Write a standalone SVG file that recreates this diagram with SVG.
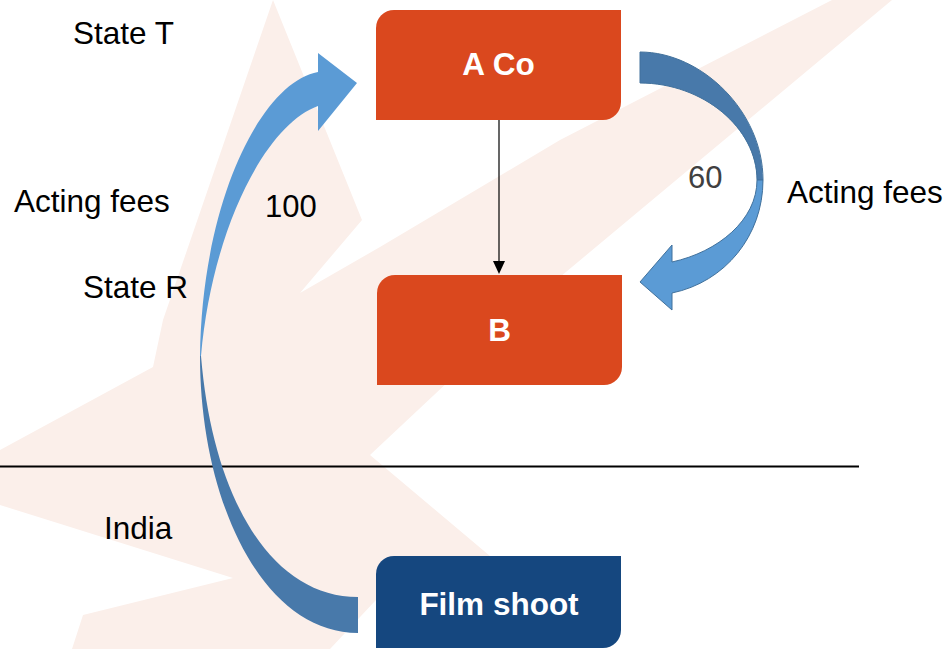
<svg xmlns="http://www.w3.org/2000/svg" width="947" height="649" viewBox="0 0 947 649">
  <defs>
    <style>
      .lbl { font-family: "Liberation Sans", Arial, sans-serif; font-size: 31.5px; fill: #000; }
      .num { font-family: "Liberation Sans", Arial, sans-serif; font-size: 31px; }
      .box-text { font-family: "Liberation Sans", Arial, sans-serif; font-size: 31.5px; font-weight: bold; fill: #fff; text-anchor: middle; }
      .orange { fill: #DA481E; }
      .navy { fill: #15477F; }
      .light { fill: #5B9BD5; }
      .dark { fill: #4879AA; }
      .outl { stroke: #41719C; stroke-width: 1; }
    </style>
  </defs>
  <rect width="947" height="649" fill="#fff"/>
  <g id="watermark" fill="#FBEFEA">
    <polygon points="273,0 362,220 300,293 380,247 560,140 832,0 892,0 560,277 370,455 490,556 376,600 330,649 72,649 83,615 233,578 0,505 0,450 153,367 163,320"/>
  </g>
  <g id="divider">
    <line x1="0" y1="466.5" x2="859" y2="466.5" stroke="#000" stroke-width="2"/>
  </g>
  <g id="connectors">
    <line x1="499" y1="120" x2="499" y2="262" stroke="#000" stroke-width="1.2"/>
    <path d="M493,261 L505,261 L499,274 Z" fill="#000"/>
    <g id="arrow-left">
      <path class="dark" d="M200,356 C200,500 262,633 358,633 L358,597 C272,597 213,500 201,356 Z"/>
      <path class="light" d="M200,356 C202,200 262,82 318,72 L318,53 L357,83 L318,131 L318,106 C265,125 212,230 201,356 Z"/>
    </g>
    <g id="arrow-right">
      <path class="dark outl" d="M640,52 C702,52 763,112 763,180 L757,180 C757,128 703,83 640,83 Z"/>
      <path class="light outl" d="M763,180 C763,236 725,282 672,293 L672,310 L640,282 L672,245 L672,262 C718,252 757,220 757,180 Z"/>
    </g>
  </g>
  <g id="node-aco">
    <path class="orange" d="M394,10 H621 V102 A18,18 0 0 1 603,120 H376 V28 A18,18 0 0 1 394,10 Z"/>
    <text class="box-text" x="498.5" y="75">A Co</text>
  </g>
  <g id="node-b">
    <path class="orange" d="M395,275 H622 V367 A18,18 0 0 1 604,385 H377 V293 A18,18 0 0 1 395,275 Z"/>
    <text class="box-text" x="499.5" y="341">B</text>
  </g>
  <g id="node-film">
    <path class="navy" d="M394,556 H621 V630 A18,18 0 0 1 603,648 H376 V574 A18,18 0 0 1 394,556 Z"/>
    <text class="box-text" x="499" y="615">Film shoot</text>
  </g>
  <g id="labels">
    <text class="lbl" x="73" y="44">State T</text>
    <text class="lbl" x="14" y="212">Acting fees</text>
    <text class="num" x="265" y="217" fill="#000">100</text>
    <text class="lbl" x="83" y="298">State R</text>
    <text class="lbl" x="104" y="539">India</text>
    <text class="num" x="688" y="188" fill="#404040">60</text>
    <text class="lbl" x="787" y="203">Acting fees</text>
  </g>
</svg>
